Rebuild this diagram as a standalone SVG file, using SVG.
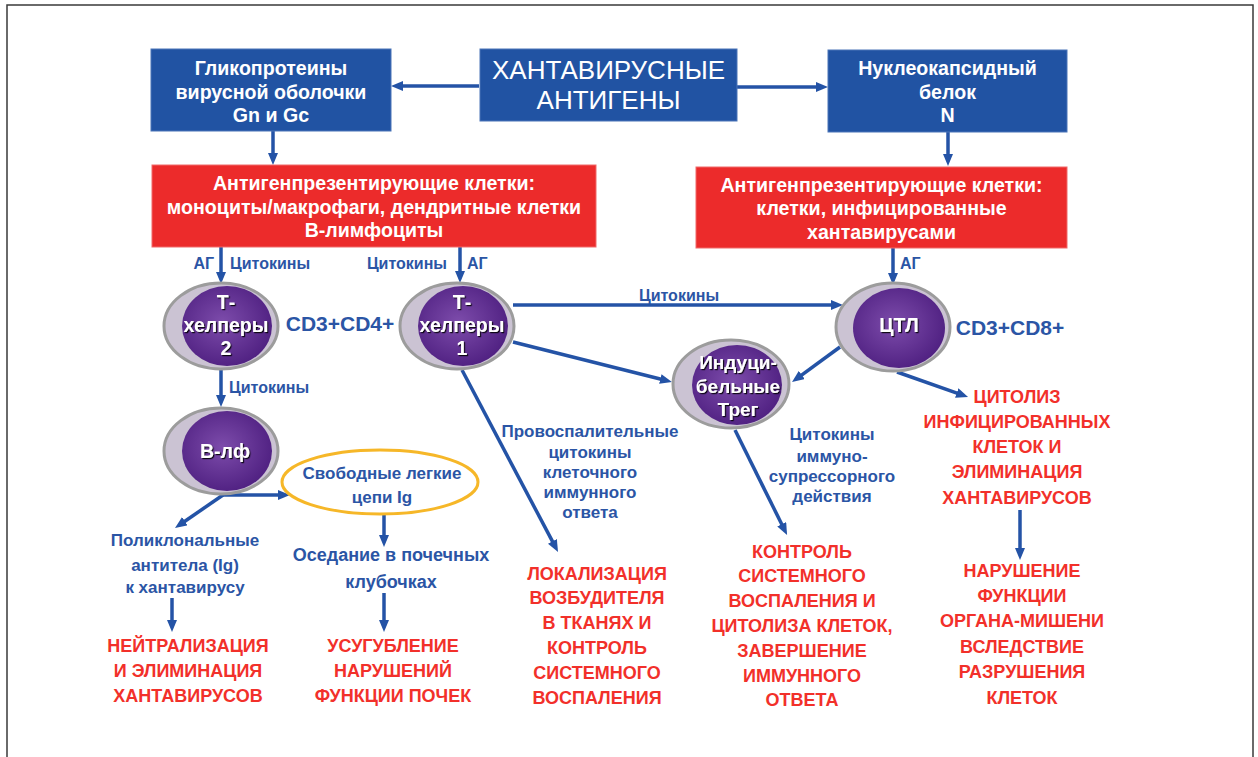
<svg xmlns="http://www.w3.org/2000/svg" width="1258" height="757" viewBox="0 0 1258 757">
<style>
.bbox{fill:#2153a3;stroke:#4a74b8;stroke-width:1}
.rbox{fill:#ec2b2b;stroke:#f06a6a;stroke-width:1}
.wt{font-family:"Liberation Sans",Arial,sans-serif;font-weight:bold;fill:#ffffff;text-anchor:middle;font-size:19.6px}
.bt{font-family:"Liberation Sans",Arial,sans-serif;font-weight:bold;fill:#2b55a5;text-anchor:middle;font-size:17px}
.lb{font-family:"Liberation Sans",Arial,sans-serif;font-weight:bold;fill:#2b55a5;font-size:16px}
.rt{font-family:"Liberation Sans",Arial,sans-serif;font-weight:bold;fill:#f2302a;text-anchor:middle;font-size:18px}
.ct{font-family:"Liberation Sans",Arial,sans-serif;font-weight:bold;fill:#ffffff;text-anchor:middle;font-size:19.5px;filter:url(#sh)}
.cd{font-family:"Liberation Sans",Arial,sans-serif;font-weight:bold;fill:#2b55a5;text-anchor:middle;font-size:21px}
.outer{fill:#cbc3d3;stroke:#9c9c9c;stroke-width:3}
.inner{fill:url(#pg)}
.ln{stroke:#2453a6;stroke-width:3.5;fill:none;marker-end:url(#ah)}
</style>
<defs>
<radialGradient id="pg" cx="0.45" cy="0.45" r="0.6">
<stop offset="0" stop-color="#7d4cab"/>
<stop offset="1" stop-color="#4e1f80"/>
</radialGradient>
<marker id="ah" viewBox="0 0 12 10" refX="4" refY="5" markerWidth="12" markerHeight="10" markerUnits="userSpaceOnUse" orient="auto">
<path d="M0,0 L12,5 L0,10 z" fill="#2453a6"/>
</marker>
<filter id="sh" x="-20%" y="-20%" width="140%" height="140%">
<feDropShadow dx="1.2" dy="1.2" stdDeviation="0.6" flood-color="#000000" flood-opacity="0.85"/>
</filter>
</defs>
<rect width="1258" height="757" fill="#ffffff"/>
<polyline points="7,757 7,5 1253,5 1253,757" fill="none" stroke="#3a3a3a" stroke-width="1.5"/>

<g id="connectors">
<line class="ln" x1="479" y1="86" x2="399" y2="86"/>
<line class="ln" x1="737" y1="87" x2="820" y2="87"/>
<line class="ln" x1="273" y1="131" x2="273" y2="157"/>
<line class="ln" x1="948" y1="132" x2="948" y2="158"/>
<line class="ln" x1="221" y1="247" x2="221" y2="276"/>
<line class="ln" x1="460" y1="247" x2="460" y2="275"/>
<line class="ln" x1="893" y1="248" x2="893" y2="277"/>
<line class="ln" x1="513" y1="305" x2="835" y2="305"/>
<line class="ln" x1="513" y1="342" x2="664.2" y2="380"/>
<line class="ln" x1="840" y1="347" x2="798.5" y2="377.3"/>
<line class="ln" x1="462" y1="370" x2="554.3" y2="544.9"/>
<line class="ln" x1="735" y1="430" x2="783.5" y2="527.8"/>
<line class="ln" x1="897" y1="372" x2="960.5" y2="394.3"/>
<line class="ln" x1="1020" y1="510" x2="1020" y2="552"/>
<line class="ln" x1="221" y1="370" x2="221" y2="399"/>
<line class="ln" x1="222" y1="495" x2="282" y2="495"/>
<line class="ln" x1="223" y1="495" x2="181.6" y2="523.5"/>
<line class="ln" x1="384" y1="514" x2="384" y2="539"/>
<line class="ln" x1="384" y1="593" x2="384" y2="624"/>
<line class="ln" x1="172" y1="598" x2="172" y2="624"/>
<text class="lb" x="214" y="268.5" text-anchor="end">АГ</text>
<text class="lb" x="230" y="268.5">Цитокины</text>
<text class="lb" x="447" y="268.5" text-anchor="end">Цитокины</text>
<text class="lb" x="467" y="268.5">АГ</text>
<text class="lb" x="900" y="268.5">АГ</text>
<text class="lb" x="679" y="300.5" text-anchor="middle">Цитокины</text>
<text class="lb" x="229" y="392.5">Цитокины</text>
<text class="bt" x="590"><tspan x="590" y="437">Провоспалительные</tspan><tspan x="590" y="458">цитокины</tspan><tspan x="590" y="478">клеточного</tspan><tspan x="590" y="498">иммунного</tspan><tspan x="590" y="518">ответа</tspan></text>
<text class="bt" x="832"><tspan x="832" y="440">Цитокины</tspan><tspan x="832" y="462">иммуно-</tspan><tspan x="832" y="482">супрессорного</tspan><tspan x="832" y="502">действия</tspan></text>
</g>

<g id="title">
<rect class="bbox" x="480" y="49" width="257" height="72"/>
<text class="wt" style="font-weight:normal;font-size:26px"><tspan x="608.5" y="78.5">ХАНТАВИРУСНЫЕ</tspan><tspan x="608.5" y="108.5">АНТИГЕНЫ</tspan></text>
</g>
<g id="glycoproteins">
<rect class="bbox" x="151" y="49" width="240" height="82"/>
<text class="wt"><tspan x="271" y="75">Гликопротеины</tspan><tspan x="271" y="99">вирусной оболочки</tspan><tspan x="271" y="122">Gn и Gc</tspan></text>
</g>
<g id="nucleocapsid">
<rect class="bbox" x="828" y="50" width="239" height="82"/>
<text class="wt"><tspan x="947.5" y="75">Нуклеокапсидный</tspan><tspan x="947.5" y="99">белок</tspan><tspan x="947.5" y="122">N</tspan></text>
</g>
<g id="apc1">
<rect class="rbox" x="152" y="165" width="444" height="82"/>
<text class="wt"><tspan x="374" y="190">Антигенпрезентирующие клетки:</tspan><tspan x="374" y="214">моноциты/макрофаги, дендритные клетки</tspan><tspan x="374" y="237">В-лимфоциты</tspan></text>
</g>
<g id="apc2">
<rect class="rbox" x="696" y="167" width="371" height="81"/>
<text class="wt"><tspan x="881.5" y="192">Антигенпрезентирующие клетки:</tspan><tspan x="881.5" y="215">клетки, инфицированные</tspan><tspan x="881.5" y="239">хантавирусами</tspan></text>
</g>

<g id="th2">
<ellipse class="outer" cx="221" cy="326" rx="57" ry="43"/>
<ellipse class="inner" cx="227" cy="326" rx="45" ry="40"/>
<text class="ct"><tspan x="226" y="309">Т-</tspan><tspan x="226" y="332">хелперы</tspan><tspan x="226" y="355">2</tspan></text>
</g>
<text id="cd4" class="cd" x="340" y="330.5">CD3+CD4+</text>
<g id="th1">
<ellipse class="outer" cx="457" cy="326" rx="57" ry="43"/>
<ellipse class="inner" cx="463" cy="326" rx="45" ry="40"/>
<text class="ct"><tspan x="462" y="309">Т-</tspan><tspan x="462" y="332">хелперы</tspan><tspan x="462" y="355">1</tspan></text>
</g>
<g id="ctl">
<ellipse class="outer" cx="893" cy="327" rx="57" ry="44"/>
<ellipse class="inner" cx="899" cy="328" rx="46" ry="40"/>
<text class="ct" x="899" y="332">ЦТЛ</text>
</g>
<text id="cd8" class="cd" x="1010" y="334.5">CD3+CD8+</text>
<g id="treg">
<ellipse class="outer" cx="731" cy="384" rx="58" ry="44"/>
<ellipse class="inner" cx="737" cy="385" rx="45" ry="40"/>
<text class="ct" style="font-size:19px"><tspan x="738" y="369">Индуци-</tspan><tspan x="738" y="393">бельные</tspan><tspan x="738" y="416">Трег</tspan></text>
</g>
<g id="blf">
<ellipse class="outer" cx="221" cy="451" rx="57" ry="43"/>
<ellipse class="inner" cx="227" cy="451" rx="45" ry="40"/>
<text class="ct" x="225" y="458">В-лф</text>
</g>
<g id="light-chains">
<ellipse cx="380" cy="482" rx="98" ry="32" fill="#ffffff" stroke="#f6b728" stroke-width="3"/>
<text class="bt"><tspan x="382" y="479">Свободные легкие</tspan><tspan x="382" y="503">цепи Ig</tspan></text>
</g>
<g id="polyclonal">
<text class="bt"><tspan x="185" y="546">Поликлональные</tspan><tspan x="185" y="571">антитела (Ig)</tspan><tspan x="185" y="593">к хантавирусу</tspan></text>
</g>
<g id="deposition">
<text class="bt" style="font-size:18px"><tspan x="391" y="561">Оседание в почечных</tspan><tspan x="391" y="588">клубочках</tspan></text>
</g>
<g id="neutralization">
<text class="rt"><tspan x="188" y="651.5">НЕЙТРАЛИЗАЦИЯ</tspan><tspan x="188" y="676.5">И ЭЛИМИНАЦИЯ</tspan><tspan x="188" y="701.5">ХАНТАВИРУСОВ</tspan></text>
</g>
<g id="kidney">
<text class="rt"><tspan x="393" y="651.5">УСУГУБЛЕНИЕ</tspan><tspan x="393" y="676.5">НАРУШЕНИЙ</tspan><tspan x="393" y="701.5">ФУНКЦИИ ПОЧЕК</tspan></text>
</g>
<g id="localization">
<text class="rt"><tspan x="597" y="579.5">ЛОКАЛИЗАЦИЯ</tspan><tspan x="597" y="604.3">ВОЗБУДИТЕЛЯ</tspan><tspan x="597" y="629.1">В ТКАНЯХ И</tspan><tspan x="597" y="653.9">КОНТРОЛЬ</tspan><tspan x="597" y="678.7">СИСТЕМНОГО</tspan><tspan x="597" y="703.5">ВОСПАЛЕНИЯ</tspan></text>
</g>
<g id="control">
<text class="rt"><tspan x="802" y="557.5">КОНТРОЛЬ</tspan><tspan x="802" y="582.3">СИСТЕМНОГО</tspan><tspan x="802" y="607.1">ВОСПАЛЕНИЯ И</tspan><tspan x="802" y="631.9">ЦИТОЛИЗА КЛЕТОК,</tspan><tspan x="802" y="656.7">ЗАВЕРШЕНИЕ</tspan><tspan x="802" y="681.5">ИММУННОГО</tspan><tspan x="802" y="706.3">ОТВЕТА</tspan></text>
</g>
<g id="cytolysis">
<text class="rt"><tspan x="1017" y="402.5">ЦИТОЛИЗ</tspan><tspan x="1017" y="427.8">ИНФИЦИРОВАННЫХ</tspan><tspan x="1017" y="453">КЛЕТОК И</tspan><tspan x="1017" y="478.3">ЭЛИМИНАЦИЯ</tspan><tspan x="1017" y="503.5">ХАНТАВИРУСОВ</tspan></text>
</g>
<g id="dysfunction">
<text class="rt"><tspan x="1022" y="576.5">НАРУШЕНИЕ</tspan><tspan x="1022" y="601.9">ФУНКЦИИ</tspan><tspan x="1022" y="627.3">ОРГАНА-МИШЕНИ</tspan><tspan x="1022" y="652.7">ВСЛЕДСТВИЕ</tspan><tspan x="1022" y="678.1">РАЗРУШЕНИЯ</tspan><tspan x="1022" y="703.5">КЛЕТОК</tspan></text>
</g>
</svg>
